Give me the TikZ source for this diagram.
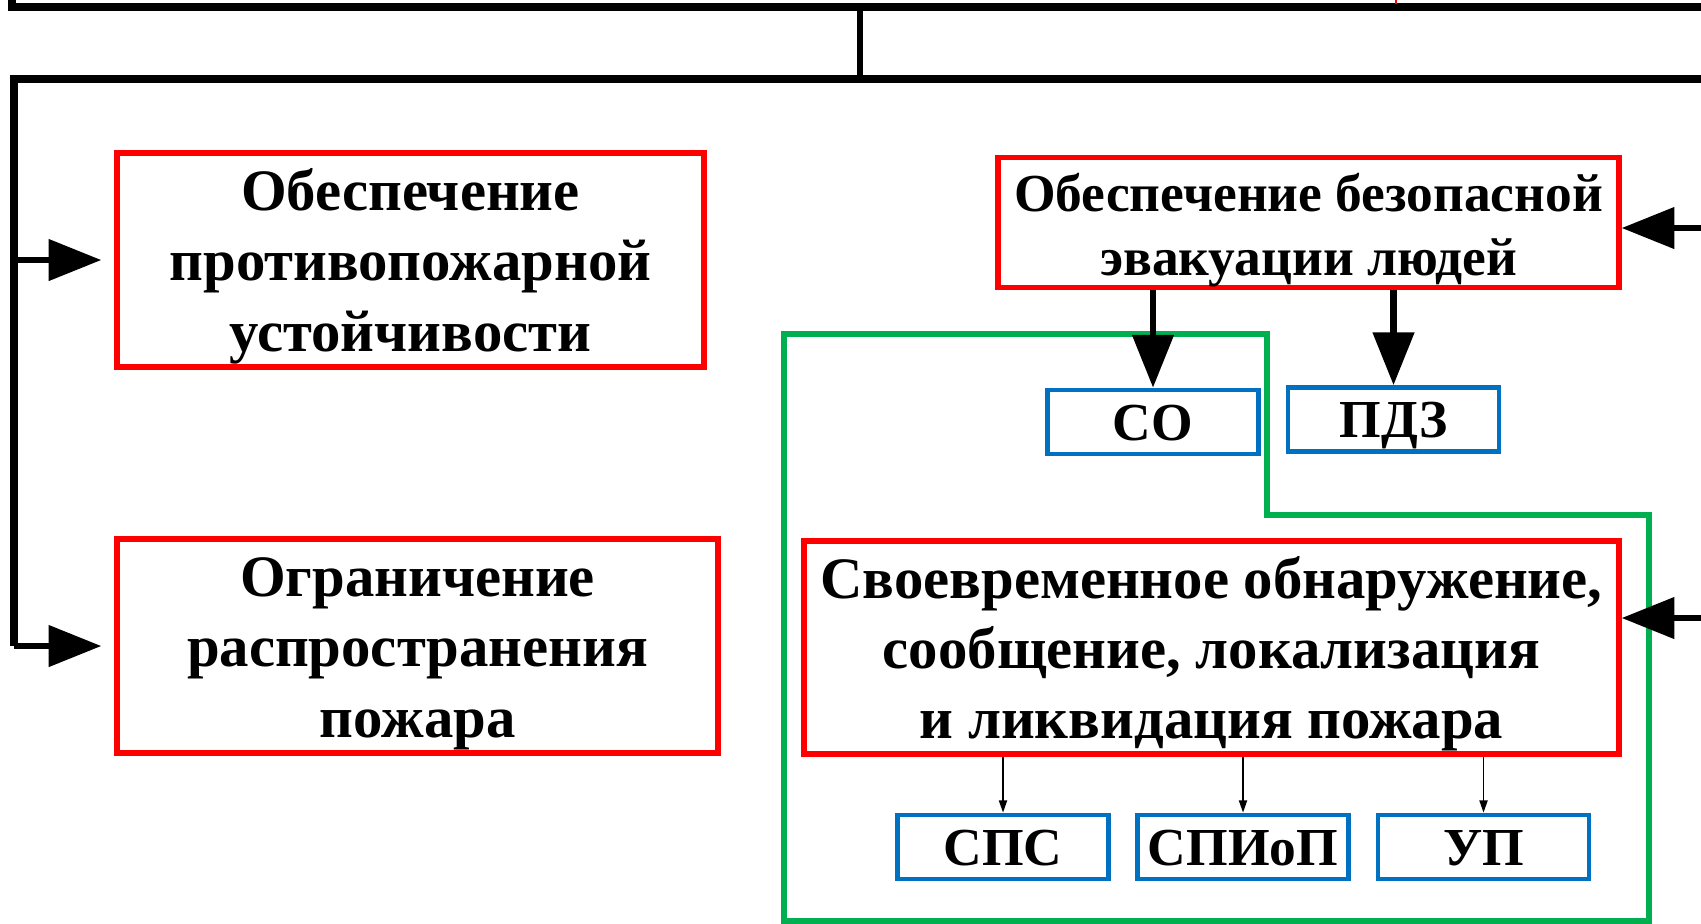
\documentclass[tikz,border=0pt]{standalone}
\usepackage{fontspec}
\setmainfont{Liberation Serif}
\usetikzlibrary{arrows.meta}
\definecolor{boxred}{RGB}{255,0,0}
\definecolor{boxblue}{RGB}{0,112,192}
\definecolor{zonegreen}{RGB}{0,176,80}
\newcommand{\bigtext}{\fontsize{16.7}{20}\selectfont\bfseries}
\newcommand{\midtext}{\fontsize{15.2}{18.2}\selectfont\bfseries}
\newcommand{\topgap}{\rule{0pt}{15.4pt}}
\tikzset{
  redbox/.style={draw=boxred, line width=1.5pt, align=center, inner sep=0pt, font=\bigtext},
  bluebox/.style={draw=boxblue, line width=1.35pt, inner sep=0pt, font=\midtext,
    text height=10.3pt, text depth=0pt,
    minimum width=211*0.01cm, minimum height=64*0.01cm},
  busline/.style={line width=2.2pt},
  bigarrow/.style={line width=1.8pt, -{Triangle[length=15pt,width=11.5pt]}},
  thinarrow/.style={line width=0.5pt, -{Triangle[length=3.5pt,width=2.3pt]}}
}
\begin{document}
\begin{tikzpicture}[x=0.01cm,y=-0.01cm]
\useasboundingbox (0,0) rectangle (1701,923);
% Main boxes
\node[redbox, minimum width=587*0.01cm, minimum height=214*0.01cm] (protect) at (410.5,260)
  {\topgap Обеспечение\\противопожарной\\устойчивости};
\node[redbox, minimum width=601*0.01cm, minimum height=214*0.01cm] (limit) at (417.5,646)
  {\topgap Ограничение\\распространения\\пожара};
\node[redbox, font=\midtext, minimum width=621*0.01cm, minimum height=129*0.01cm] (evac) at (1308.5,222.5)
  {\topgap Обеспечение безопасной\\эвакуации людей};
\node[redbox, minimum width=815*0.01cm, minimum height=213*0.01cm] (detect) at (1211.5,647.5)
  {\topgap Своевременное обнаружение,\\сообщение, локализация\\и ликвидация пожара};
% Systems
\node[bluebox] (so) at (1153,422) {СО};
\node[bluebox] (pdz) at (1393.5,419.5) {ПДЗ};
\node[bluebox] (sps) at (1003,847) {СПС};
\node[bluebox] (spiop) at (1243,847) {СПИоП};
\node[bluebox] (up) at (1483.5,847) {УП};
% Green zone
\draw[zonegreen, line width=1.6pt] (784,921) -- (784,334) -- (1267,334) -- (1267,515)
  -- (1649,515) -- (1649,921) -- cycle;
% Bus lines
\coordinate (topL) at (12,-5);
\coordinate (topJ) at (860,7);
\coordinate (busJ) at (860,79);
\coordinate (busL) at (14,79);
\draw[busline] (topL) |- (1710,7);
\draw[line width=1.8pt] (topJ) -- (busJ);
\draw[busline] (1710,79) -- (busL) -- (busL |- limit.west);
\draw[draw=boxred, line width=0.5pt] (1396,0) -- (1396,4);
% Arrows
\draw[bigarrow, shorten >=3.7pt] (busL |- protect.west) -- (protect.west);
\draw[bigarrow, shorten >=3.7pt] (busL |- limit.west) -- (limit.west);
\coordinate (inEvac) at (1705,228);
\coordinate (inDetect) at (1705,618);
\draw[bigarrow] (inEvac) -- (inEvac -| evac.east);
\draw[bigarrow] (inDetect) -- (inDetect -| detect.east);
\draw[bigarrow] (evac.south -| so) -- (so.north);
\draw[bigarrow] (evac.south -| pdz) -- (pdz.north);
\foreach \sys in {sps,spiop,up}
  \draw[thinarrow] (detect.south -| \sys) -- (\sys.north);
\end{tikzpicture}
\end{document}
